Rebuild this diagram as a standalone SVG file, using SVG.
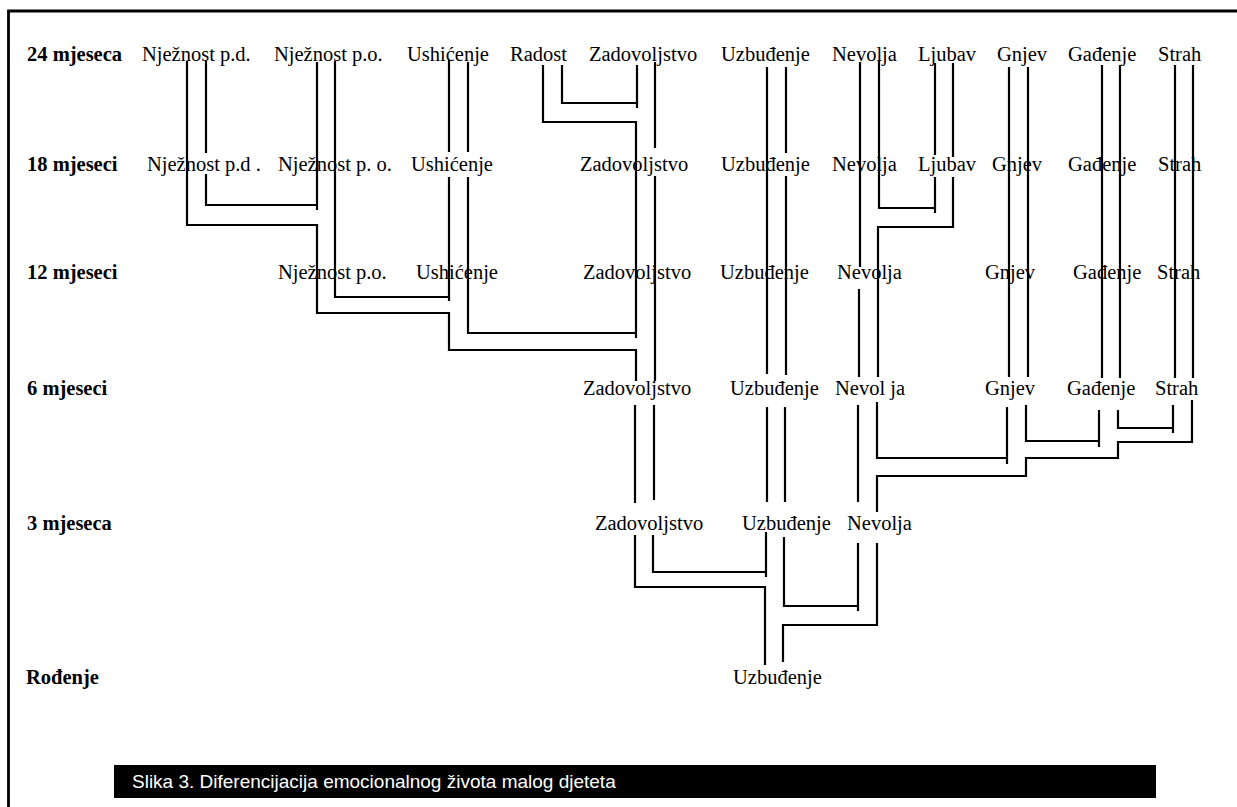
<svg xmlns="http://www.w3.org/2000/svg" width="1237" height="807" viewBox="0 0 1237 807">
<style>
.lbl{font-family:"Liberation Serif","Times New Roman",serif;font-size:20.5px;fill:#000}
.row{font-weight:bold}
.cn path{fill:none;stroke:#000;stroke-width:2.2}
.cap{font-family:"Liberation Sans",Arial,sans-serif;font-size:19px;fill:#fff}
</style>
<rect x="0" y="0" width="1237" height="807" fill="#fff"/>
<path d="M8.5,807 V11 H1237" fill="none" stroke="#000" stroke-width="2.8"/>
<g id="connectors" class="cn">
<path d="M187,61 V225 H317 V313 H449 V350 H636 V381"/>
<path d="M635,405 V503"/>
<path d="M635,535 V587 H765 V665"/>
<path d="M206,61 V153 M206,174 V205 H317"/>
<path d="M317,62 V210"/>
<path d="M335,61 V297 H449"/>
<path d="M449,60 V152 M449,177 V301"/>
<path d="M468,62 V152 M468,177 V333 H636"/>
<path d="M543,65 V122 H636 V338"/>
<path d="M562,65 V103 H637"/>
<path d="M637,65 V108"/>
<path d="M655,62 V148 M655,176 V381 M654,405 V500 M653,535 V572 H766"/>
<path d="M767,67 V374 M767,407 V502 M766,532 V577"/>
<path d="M786,67 V153 M786,176 V375 M785,407 V502 M784,537 V606 H858"/>
<path d="M860,62 V267 M859,289 V377 M858,405 V502 M858,543 V611"/>
<path d="M879,60 V208 H935"/>
<path d="M935,63 V155 M935,177 V213"/>
<path d="M953,63 V157 M953,177 V227 H878 V377 M877,402 V458 H1007"/>
<path d="M1009,67 V377 M1007,407 V464"/>
<path d="M1028,67 V377 M1026,405 V441 H1099"/>
<path d="M1102,65 V378 M1099,410 V447"/>
<path d="M1120,65 V378 M1118,410 V428 H1173"/>
<path d="M1175,65 V378 M1173,405 V433"/>
<path d="M1193,65 V378 M1192,400 V442 H1118 V458 H1026 V476 H877 V512 M877,543 V625 H783 V662"/>
</g>
<g id="age-labels" class="lbl row">
<g id="age24"><text x="27" y="60.5">24 mjeseca</text></g>
<g id="age18"><text x="27" y="171">18 mjeseci</text></g>
<g id="age12"><text x="27" y="279">12 mjeseci</text></g>
<g id="age6"><text x="27" y="395">6 mjeseci</text></g>
<g id="age3"><text x="27" y="530">3 mjeseca</text></g>
<g id="age0"><text x="26" y="684">Rođenje</text></g>
</g>
<g id="row24" class="lbl">
<g id="n24-pd"><text x="142" y="60.5">Nježnost p.d.</text></g>
<g id="n24-po"><text x="274" y="60.5">Nježnost p.o.</text></g>
<g id="n24-ush"><text x="407" y="60.5">Ushićenje</text></g>
<g id="n24-rad"><text x="510" y="60.5">Radost</text></g>
<g id="n24-zad"><text x="589" y="60.5">Zadovoljstvo</text></g>
<g id="n24-uzb"><text x="721" y="60.5">Uzbuđenje</text></g>
<g id="n24-nev"><text x="832" y="60.5">Nevolja</text></g>
<g id="n24-lju"><text x="918" y="60.5">Ljubav</text></g>
<g id="n24-gnj"><text x="997" y="60.5">Gnjev</text></g>
<g id="n24-gad"><text x="1068" y="60.5">Gađenje</text></g>
<g id="n24-str"><text x="1158" y="60.5">Strah</text></g>
</g>
<g id="row18" class="lbl">
<g id="n18-pd"><text x="147" y="171">Nježnost p.d .</text></g>
<g id="n18-po"><text x="278" y="171">Nježnost p. o.</text></g>
<g id="n18-ush"><text x="411" y="171">Ushićenje</text></g>
<g id="n18-zad"><text x="580" y="171">Zadovoljstvo</text></g>
<g id="n18-uzb"><text x="721" y="171">Uzbuđenje</text></g>
<g id="n18-nev"><text x="832" y="171">Nevolja</text></g>
<g id="n18-lju"><text x="918" y="171">Ljubav</text></g>
<g id="n18-gnj"><text x="992" y="171">Gnjev</text></g>
<g id="n18-gad"><text x="1068" y="171">Gađenje</text></g>
<g id="n18-str"><text x="1158" y="171">Strah</text></g>
</g>
<g id="row12" class="lbl">
<g id="n12-po"><text x="278" y="279">Nježnost p.o.</text></g>
<g id="n12-ush"><text x="416" y="279">Ushićenje</text></g>
<g id="n12-zad"><text x="583" y="279">Zadovoljstvo</text></g>
<g id="n12-uzb"><text x="720" y="279">Uzbuđenje</text></g>
<g id="n12-nev"><text x="837" y="279">Nevolja</text></g>
<g id="n12-gnj"><text x="985" y="279">Gnjev</text></g>
<g id="n12-gad"><text x="1073" y="279">Gađenje</text></g>
<g id="n12-str"><text x="1157" y="279">Strah</text></g>
</g>
<g id="row6" class="lbl">
<g id="n6-zad"><text x="583" y="395">Zadovoljstvo</text></g>
<g id="n6-uzb"><text x="730" y="395">Uzbuđenje</text></g>
<g id="n6-nev"><text x="835" y="395">Nevol ja</text></g>
<g id="n6-gnj"><text x="985" y="395">Gnjev</text></g>
<g id="n6-gad"><text x="1067" y="395">Gađenje</text></g>
<g id="n6-str"><text x="1155" y="395">Strah</text></g>
</g>
<g id="row3" class="lbl">
<g id="n3-zad"><text x="595" y="530">Zadovoljstvo</text></g>
<g id="n3-uzb"><text x="742" y="530">Uzbuđenje</text></g>
<g id="n3-nev"><text x="847" y="530">Nevolja</text></g>
</g>
<g id="row0" class="lbl">
<g id="n0-uzb"><text x="733" y="684">Uzbuđenje</text></g>
</g>
<g id="caption">
<rect x="114" y="765" width="1042" height="33" fill="#000"/>
<text class="cap" x="132" y="788">Slika 3. Diferencijacija emocionalnog života malog djeteta</text>
</g>
</svg>
